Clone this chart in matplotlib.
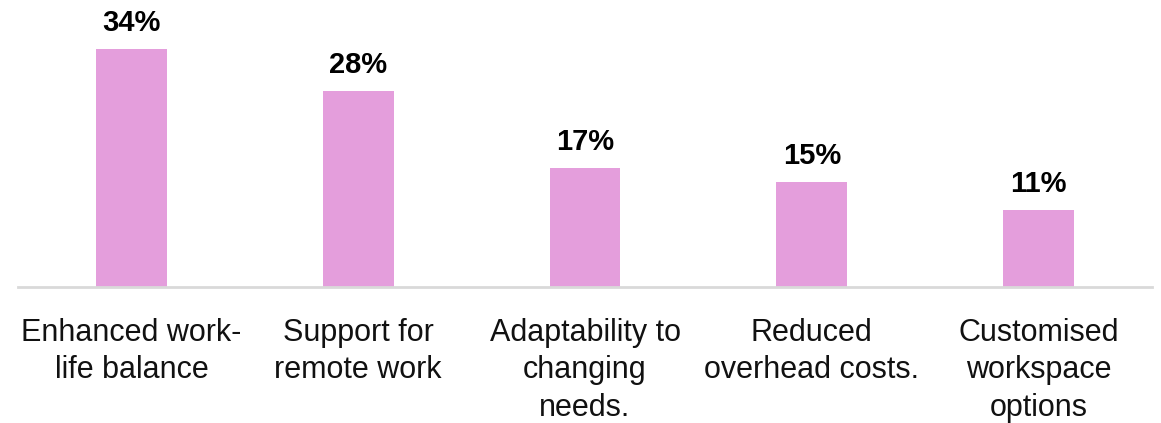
import matplotlib
matplotlib.use("Agg")
import matplotlib.pyplot as plt

categories = [
    "Enhanced work-\nlife balance",
    "Support for\nremote work",
    "Adaptability to\nchanging\nneeds.",
    "Reduced\noverhead costs.",
    "Customised\nworkspace\noptions",
]
values = [34, 28, 17, 15, 11]
value_labels = ["34%", "28%", "17%", "15%", "11%"]

W, H = 1161, 423
fig = plt.figure(figsize=(W / 100, H / 100), dpi=100)
ax = fig.add_axes([18 / W, (H - 287) / H, (1152 - 18) / W, 287 / H])

x = range(len(categories))
bars = ax.bar(x, values, width=0.313, color="#E49EDC")
ax.set_xlim(-0.5, len(categories) - 0.5)
ax.set_ylim(0, 41)

for b, lab in zip(bars, value_labels):
    ax.annotate(lab, (b.get_x() + b.get_width() / 2, b.get_height()),
                xytext=(0, 8.5), textcoords="offset points",
                ha="center", va="bottom", fontsize=21, fontweight="bold",
                family="Liberation Sans", color="black")

ax.set_xticks(list(x))
ax.set_xticklabels(categories, fontsize=22, family="Liberation Sans",
                   color="#111111", linespacing=1.33)
ax.tick_params(axis="x", length=0, pad=22)
ax.set_yticks([])
for s in ["top", "left", "right"]:
    ax.spines[s].set_visible(False)
ax.spines["bottom"].set_color("#D9D9D9")
ax.spines["bottom"].set_linewidth(2)

fig.savefig("out.png", dpi=100)
